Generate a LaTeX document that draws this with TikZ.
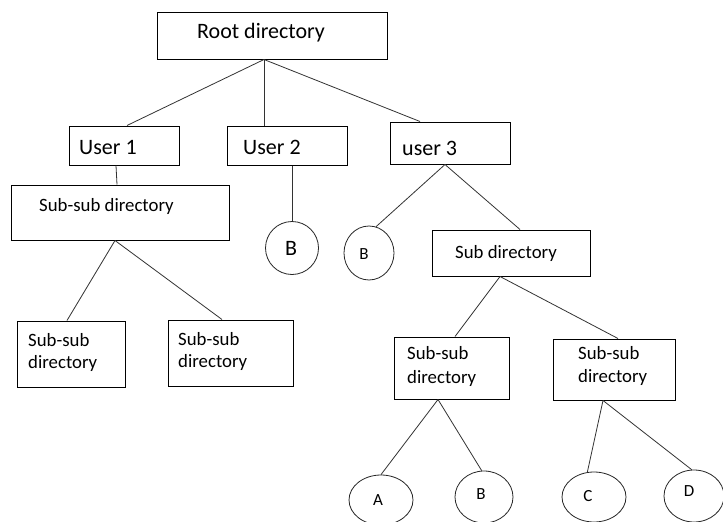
\documentclass[tikz,border=0pt]{standalone}
\usepackage{fontspec}
\setmainfont{Carlito}
\usetikzlibrary{shapes.geometric}
\begin{document}
\begin{tikzpicture}[x=1pt,y=-1pt,
  box/.style={draw=black,line width=1pt,rectangle,inner sep=0pt},
  ring/.style={draw=black!85,line width=0.8pt,ellipse,inner sep=0pt},
  txt/.style={anchor=west,inner sep=0pt,text=black},
  big/.style={font=\fontsize{22}{26}\selectfont},
  mid/.style={font=\fontsize{18.8}{23}\selectfont},
  sml/.style={font=\fontsize{17}{20}\selectfont},
  link/.style={draw=black!80,line width=0.8pt}]
\useasboundingbox (0,0) rectangle (723,522);
\clip (0,0) rectangle (723,522);
\fill[white] (0,0) rectangle (723,522);
% boxes
\node[box,minimum width=230pt,minimum height=47pt] (root) at (272,35.5) {};
\node[txt,big] (troot) at (197,33) {Root directory};
\node[box,minimum width=110pt,minimum height=39pt] (u1) at (124,145.5) {};
\node[txt,big] (tu1) at (79,147) {User 1};
\node[box,minimum width=120pt,minimum height=39pt] (u2) at (287,145.5) {};
\node[txt,big] (tu2) at (243,147) {User 2};
\node[box,minimum width=120pt,minimum height=42pt] (u3) at (450,143) {};
\node[txt,big] (tu3) at (402,148) {user 3};
\node[box,minimum width=218pt,minimum height=55pt] (ss1) at (120,212.5) {};
\node[txt,mid] (tss1) at (39,206) {Sub-sub directory};
\node[box,minimum width=108pt,minimum height=66pt] (ss1a) at (71,354) {};
\node[txt,mid] (tss1a1) at (28,340) {Sub-sub};
\node[txt,mid] (tss1a2) at (28,363) {directory};
\node[box,minimum width=125pt,minimum height=66pt] (ss1b) at (230.5,353) {};
\node[txt,mid] (tss1b1) at (178,339) {Sub-sub};
\node[txt,mid] (tss1b2) at (178,362) {directory};
\node[box,minimum width=158pt,minimum height=46pt] (sd) at (511,253) {};
\node[txt,mid] (tsd) at (455,253) {Sub directory};
\node[box,minimum width=115pt,minimum height=62pt] (ss2a) at (451.5,368) {};
\node[txt,mid] (tss2a1) at (407,353) {Sub-sub};
\node[txt,mid] (tss2a2) at (407,378) {directory};
\node[box,minimum width=122pt,minimum height=61pt] (ss2b) at (614,369.5) {};
\node[txt,mid] (tss2b1) at (578,353) {Sub-sub};
\node[txt,mid] (tss2b2) at (578,377) {directory};
% circles
\node[ring,minimum width=53pt,minimum height=53pt] (b2) at (292,248) {};
\node[big,inner sep=0pt] (tb2) at (291,248) {B};
\node[ring,minimum width=50pt,minimum height=54pt] (b3) at (369,253) {};
\node[sml,inner sep=0pt] (tb3) at (364,254) {B};
\node[ring,minimum width=64pt,minimum height=50pt] (ea) at (381,500) {};
\node[sml,inner sep=0pt] (ta) at (378,500) {A};
\node[ring,minimum width=58pt,minimum height=52pt] (eb) at (484,497) {};
\node[sml,inner sep=0pt] (tb) at (481,494) {B};
\node[ring,minimum width=64pt,minimum height=50pt] (ec) at (594,497) {};
\node[sml,inner sep=0pt] (tc) at (588,496) {C};
\node[ring,minimum width=60pt,minimum height=52pt] (ed) at (694,496) {};
\node[sml,inner sep=0pt] (td) at (689,491) {D};
% connectors
\draw[link] ([xshift=-8pt]root.south) -- ([xshift=3pt]u1.north);
\draw[link] ([xshift=-8pt]root.south) -- ([xshift=-23pt]u2.north);
\draw[link] ([xshift=-8pt]root.south) -- ([xshift=-30pt]u3.north);
\draw[link] ([xshift=-8pt]u1.south) -- ([xshift=-3pt]ss1.north);
\draw[link] ([xshift=-5pt]ss1.south) -- ([xshift=-4pt]ss1a.north);
\draw[link] ([xshift=-5pt]ss1.south) -- ([xshift=-8.5pt]ss1b.north);
\draw[link] ([xshift=5pt]u2.south) -- (b2.north);
\draw[link] ([xshift=-5pt]u3.south) -- (b3.75);
\draw[link] ([xshift=-5pt]u3.south) -- ([xshift=9pt]sd.north);
\draw[link] ([xshift=-11pt]sd.south) -- ([xshift=3.5pt]ss2a.north);
\draw[link] ([xshift=-11pt]sd.south) -- ([xshift=4pt]ss2b.north);
\draw[link] ([xshift=-13.5pt]ss2a.south) -- (ea.north);
\draw[link] ([xshift=-13.5pt]ss2a.south) -- (eb.95);
\draw[link] ([xshift=-11pt]ss2b.south) -- (ec.105);
\draw[link] ([xshift=-11pt]ss2b.south) -- (ed.95);
\end{tikzpicture}
\end{document}
